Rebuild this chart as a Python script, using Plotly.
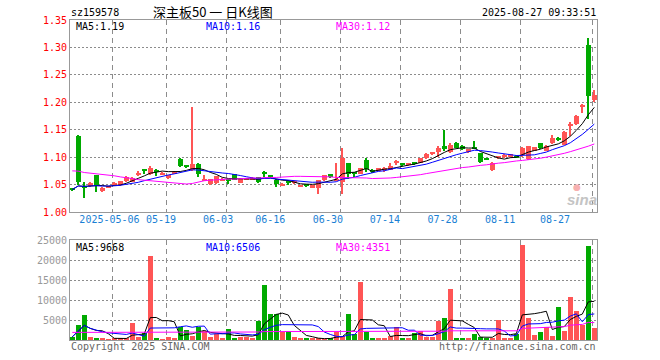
import plotly.graph_objects as go
import pandas as pd

# ---------------- data ----------------
dates = [
    "2025-04-22", "2025-04-23", "2025-04-24", "2025-04-25", "2025-04-28", "2025-04-29", "2025-04-30",
    "2025-05-06", "2025-05-07", "2025-05-08", "2025-05-09", "2025-05-12", "2025-05-13", "2025-05-14",
    "2025-05-15", "2025-05-16", "2025-05-19", "2025-05-20", "2025-05-21", "2025-05-22", "2025-05-23",
    "2025-05-26", "2025-05-27", "2025-05-28", "2025-05-29", "2025-05-30",
    "2025-06-03", "2025-06-04", "2025-06-05", "2025-06-06", "2025-06-09", "2025-06-10", "2025-06-11",
    "2025-06-12", "2025-06-13", "2025-06-16", "2025-06-17", "2025-06-18", "2025-06-19", "2025-06-20",
    "2025-06-23", "2025-06-24", "2025-06-25", "2025-06-26", "2025-06-27", "2025-06-30",
    "2025-07-01", "2025-07-02", "2025-07-03", "2025-07-04", "2025-07-07", "2025-07-08", "2025-07-09",
    "2025-07-10", "2025-07-11", "2025-07-14", "2025-07-15", "2025-07-16", "2025-07-17", "2025-07-18",
    "2025-07-21", "2025-07-22", "2025-07-23", "2025-07-24", "2025-07-25", "2025-07-28", "2025-07-29",
    "2025-07-30", "2025-07-31",
    "2025-08-01", "2025-08-04", "2025-08-05", "2025-08-06", "2025-08-07", "2025-08-08", "2025-08-11",
    "2025-08-12", "2025-08-13", "2025-08-14", "2025-08-15", "2025-08-18", "2025-08-19", "2025-08-20",
    "2025-08-21", "2025-08-22", "2025-08-25", "2025-08-26", "2025-08-27",
]

opens = [1.043, 1.138, 1.047, 1.048, 1.067, 1.038, 1.045, 1.049, 1.049, 1.056,
         1.055, 1.0685, 1.076, 1.069, 1.074, 1.069, 1.062, 1.071, 1.097, 1.084,
         1.0765, 1.088, 1.058, 1.051, 1.052, 1.057, 1.059, 1.0685, 1.053, 1.059,
         1.060, 1.063, 1.071, 1.067, 1.059, 1.049, 1.057, 1.053, 1.046, 1.049,
         1.044, 1.044, 1.058, 1.069, 1.058, 1.055, 1.089, 1.071, 1.070, 1.095,
         1.077, 1.075, 1.078, 1.0765, 1.090, 1.087, 1.086, 1.089, 1.090, 1.098,
         1.106, 1.110, 1.120, 1.109, 1.126, 1.121, 1.109, 1.116, 1.107, 1.097,
         1.0765, 1.099, 1.100, 1.101, 1.103, 1.104, 1.096, 1.112, 1.125, 1.112,
         1.125, 1.135, 1.123, 1.157, 1.160, 1.191, 1.305, 1.205]

closes = [1.041, 1.054, 1.045, 1.052, 1.048, 1.043, 1.046, 1.053, 1.056, 1.064,
          1.062, 1.072, 1.075, 1.081, 1.073, 1.072, 1.067, 1.073, 1.084, 1.083,
          1.088, 1.069, 1.061, 1.060, 1.065, 1.061, 1.058, 1.059, 1.061, 1.061,
          1.062, 1.055, 1.070, 1.063, 1.051, 1.051, 1.052, 1.054, 1.049, 1.048,
          1.049, 1.058, 1.067, 1.063, 1.061, 1.098, 1.070, 1.070, 1.080, 1.078,
          1.073, 1.080, 1.079, 1.084, 1.091, 1.086, 1.087, 1.088, 1.098, 1.106,
          1.107, 1.117, 1.115, 1.123, 1.117, 1.114, 1.114, 1.115, 1.092, 1.096,
          1.090, 1.100, 1.104, 1.105, 1.100, 1.117, 1.120, 1.118, 1.117, 1.121,
          1.134, 1.131, 1.146, 1.158, 1.175, 1.195, 1.212, 1.2136]

highs = [1.044, 1.140, 1.055, 1.054, 1.068, 1.045, 1.047, 1.054, 1.057, 1.065,
         1.063, 1.074, 1.078, 1.083, 1.078, 1.073, 1.068, 1.074, 1.099, 1.086,
         1.191, 1.089, 1.067, 1.061, 1.066, 1.062, 1.060, 1.069, 1.062, 1.062,
         1.063, 1.064, 1.075, 1.068, 1.060, 1.052, 1.058, 1.055, 1.050, 1.050,
         1.050, 1.059, 1.068, 1.070, 1.089, 1.117, 1.090, 1.073, 1.081, 1.098,
         1.078, 1.081, 1.082, 1.089, 1.095, 1.088, 1.088, 1.091, 1.099, 1.107,
         1.109, 1.120, 1.149, 1.126, 1.127, 1.122, 1.115, 1.129, 1.108, 1.098,
         1.091, 1.101, 1.105, 1.106, 1.104, 1.118, 1.121, 1.119, 1.126, 1.122,
         1.140, 1.136, 1.147, 1.164, 1.176, 1.196, 1.317, 1.223]

lows = [1.039, 1.050, 1.025, 1.046, 1.036, 1.036, 1.044, 1.048, 1.048, 1.055,
        1.054, 1.065, 1.070, 1.067, 1.065, 1.068, 1.061, 1.069, 1.082, 1.080,
        1.075, 1.063, 1.057, 1.049, 1.051, 1.056, 1.051, 1.058, 1.052, 1.058,
        1.059, 1.053, 1.064, 1.062, 1.046, 1.048, 1.050, 1.052, 1.045, 1.047,
        1.043, 1.033, 1.057, 1.062, 1.058, 1.033, 1.061, 1.064, 1.069, 1.073,
        1.072, 1.074, 1.073, 1.076, 1.086, 1.085, 1.085, 1.085, 1.089, 1.097,
        1.104, 1.101, 1.112, 1.107, 1.116, 1.113, 1.108, 1.114, 1.090, 1.095,
        1.075, 1.098, 1.099, 1.100, 1.099, 1.101, 1.095, 1.111, 1.115, 1.111,
        1.124, 1.130, 1.122, 1.139, 1.159, 1.181, 1.169, 1.200]

volumes = [800, 3830, 6330, 670, 330, 330, 250, 500, 500, 330,
           4330, 670, 1750, 20900, 500, 250, 830, 330, 3170, 2500,
           920, 3170, 2170, 750, 1500, 330, 2830, 330, 670, 670,
           330, 4670, 13830, 6580, 6580, 1920, 2330, 830, 330, 330,
           330, 500, 250, 500, 1920, 1000, 6580, 1500, 14580, 1920,
           500, 500, 330, 1080, 3330, 330, 330, 1670, 2170, 830,
           830, 4670, 5580, 12830, 500, 330, 330, 1580, 830, 330,
           330, 5080, 330, 580, 1580, 23830, 5580, 1330, 1900, 3300,
           1000, 8300, 2300, 10700, 7250, 3830, 23580, 2970]

# MA30 lines as drawn in the reference (they include history before the window)
ma30_price = [1.075, 1.0745, 1.072, 1.071, 1.069, 1.068, 1.067, 1.066, 1.064, 1.063,
              1.061, 1.059, 1.058, 1.057, 1.056, 1.055, 1.054, 1.052, 1.051, 1.051,
              1.052, 1.055, 1.057, 1.058, 1.059, 1.059, 1.060, 1.060, 1.061, 1.061,
              1.062, 1.062, 1.063, 1.063, 1.063, 1.064, 1.064, 1.065, 1.065, 1.065,
              1.064, 1.064, 1.064, 1.064, 1.063, 1.063, 1.062, 1.062, 1.062, 1.062,
              1.061, 1.061, 1.061, 1.062, 1.063, 1.064, 1.065, 1.066, 1.068, 1.070,
              1.072, 1.073, 1.075, 1.077, 1.079, 1.081, 1.082, 1.084, 1.085, 1.086,
              1.088, 1.089, 1.090, 1.092, 1.093, 1.094, 1.095, 1.097, 1.098, 1.100,
              1.102, 1.104, 1.107, 1.110, 1.113, 1.116, 1.120, 1.124]

ma30_vol = [1900, 1900, 1900, 1900, 1900, 1900, 1900, 1900, 1900, 1900,
            1900, 1900, 1900, 2000, 2000, 2000, 2000, 2000, 2000, 2000,
            2000, 2000, 2000, 2000, 2000, 2000, 2000, 2000, 2000, 2000,
            2000, 2000, 2100, 2100, 2100, 2100, 2100, 2100, 2100, 2100,
            2100, 2100, 2100, 2100, 2100, 2100, 2100, 2100, 2200, 2200,
            2200, 2200, 2200, 2200, 2200, 2200, 2200, 2200, 2200, 2200,
            2200, 2200, 2200, 2300, 2300, 2300, 2300, 2300, 2300, 2300,
            2300, 2300, 2300, 2300, 2300, 2900, 2950, 3000, 3050, 3100,
            3150, 3300, 3350, 3700, 3850, 3900, 4400, 4350]

tick_dates = ["2025-05-06", "2025-05-19", "2025-06-03", "2025-06-16", "2025-06-30",
              "2025-07-14", "2025-07-28", "2025-08-11", "2025-08-27"]
tick_text = ["2025-05-06", "05-19", "06-03", "06-16", "06-30", "07-14", "07-28", "08-11", "08-27"]

price_ticks = [1.00, 1.05, 1.10, 1.15, 1.20, 1.25, 1.30, 1.35]
vol_ticks = [5000, 10000, 15000, 20000, 25000]

code = "sz159578"
title = "深主板50 一 日K线图"
stamp = "2025-08-27 09:33:51"
vol_ma_labels = ["MA5:9668", "MA10:6506", "MA30:4351"]

# ---------------- derived ----------------
n = len(dates)
idx = list(range(n))
RED, GREEN = "#ff5555", "#00aa00"
colors = [RED if c >= o else GREEN for o, c in zip(opens, closes)]
body_base = [min(o, c) for o, c in zip(opens, closes)]
body_h = [max(abs(c - o), 0.0019) for o, c in zip(opens, closes)]
wick_h = [h - l for h, l in zip(highs, lows)]

cs = pd.Series(closes)
ma5 = cs.rolling(5, min_periods=1).mean()
ma10 = cs.rolling(10, min_periods=1).mean()
vs = pd.Series(volumes)
vma5 = vs.rolling(5, min_periods=1).mean()
vma10 = vs.rolling(10, min_periods=1).mean()

# ---------------- layout geometry ----------------
W, H = 660, 360
ML, MR, MT, MB = 70, 63, 20, 20
PW, PH = W - ML - MR, H - MT - MB


def px(x):
    return (x - ML) / PW


def py(y):
    return (H - MB - y) / PH


grid_pos = [dates.index(d) - 0.37 for d in tick_dates]
label_pos = [6.2, 14.8, 24.3, 33.0, 42.6, 52.1, 61.7, 71.3, 80.45]
xrange = [-0.38, n - 1 + 0.45]

MONO = "DejaVu Sans Mono"
GRID = "#8c8c8c"
FRAME = "#999999"

fig = go.Figure()
# candles
fig.add_trace(go.Bar(x=idx, y=wick_h, base=lows, width=0.17,
                     marker=dict(color=colors, line=dict(width=0)), xaxis="x", yaxis="y"))
fig.add_trace(go.Bar(x=idx, y=body_h, base=body_base, width=0.82,
                     marker=dict(color=colors, line=dict(width=0)), xaxis="x", yaxis="y"))
fig.add_trace(go.Scatter(x=idx, y=ma5, mode="lines", line=dict(color="black", width=1), xaxis="x", yaxis="y"))
fig.add_trace(go.Scatter(x=idx, y=ma10, mode="lines", line=dict(color="#0000ff", width=1), xaxis="x", yaxis="y"))
fig.add_trace(go.Scatter(x=idx, y=ma30_price, mode="lines", line=dict(color="#ff00ff", width=1), xaxis="x", yaxis="y"))
# volume
fig.add_trace(go.Bar(x=idx, y=volumes, width=0.82,
                     marker=dict(color=colors, line=dict(width=0)), xaxis="x2", yaxis="y2"))
fig.add_trace(go.Scatter(x=idx, y=vma5, mode="lines", line=dict(color="black", width=1), xaxis="x2", yaxis="y2"))
fig.add_trace(go.Scatter(x=idx, y=vma10, mode="lines", line=dict(color="#0000ff", width=1), xaxis="x2", yaxis="y2"))
fig.add_trace(go.Scatter(x=idx, y=ma30_vol, mode="lines", line=dict(color="#ff00ff", width=1), xaxis="x2", yaxis="y2"))
# empty trace so the date-label axis is drawn
fig.add_trace(go.Scatter(x=[None], y=[None], mode="lines", xaxis="x3", yaxis="y", hoverinfo="skip"))

fig.update_layout(template="none")

common_x = dict(range=xrange, tickmode="array", tickvals=grid_pos, showticklabels=False,
                ticks="", showgrid=True, gridcolor=GRID, gridwidth=1, griddash="5px,4px",
                showline=True, linecolor=FRAME, linewidth=1, mirror=True, zeroline=False)

fig.update_layout(
    width=W, height=H,
    margin=dict(l=ML, r=MR, t=MT, b=MB, pad=0),
    paper_bgcolor="white", plot_bgcolor="rgba(0,0,0,0)",
    showlegend=False, barmode="overlay", bargap=0,
    xaxis=dict(domain=[0, 1], anchor="y", **common_x),
    xaxis2=dict(domain=[0, 1], anchor="y2", **common_x),
    xaxis3=dict(overlaying="x", anchor="y", side="bottom", range=xrange,
                tickmode="array", tickvals=label_pos, ticktext=tick_text, ticks="",
                showgrid=False, showline=False, zeroline=False,
                tickfont=dict(family=MONO, size=10, color="#1a7fd4")),
    yaxis=dict(domain=[py(212), 1], range=[1.0, 1.35], tickmode="array", tickvals=price_ticks,
               ticktext=[f"{v:.2f}" for v in price_ticks], ticks="",
               tickfont=dict(family=MONO, size=10, color="#ff0000"),
               showgrid=True, gridcolor=GRID, gridwidth=1, griddash="2px,2px",
               showline=True, linecolor=FRAME, mirror=True, zeroline=False),
    yaxis2=dict(domain=[0, py(240)], range=[0, 25000], tickmode="array", tickvals=vol_ticks,
                ticktext=[str(v) for v in vol_ticks], ticks="",
                tickfont=dict(family=MONO, size=10, color="#999999"),
                showgrid=True, gridcolor=GRID, gridwidth=1, griddash="2px,2px",
                showline=True, linecolor=FRAME, mirror=True, zeroline=False),
)

ann = []


def text(s, x, y, anchor="left", color="black", size=10, family=MONO):
    ann.append(dict(text=s, x=px(x), y=py(y), xref="paper", yref="paper",
                    xanchor=anchor, yanchor="middle", showarrow=False,
                    font=dict(family=family, size=size, color=color)))


text(code, 69, 13)
text(title, 213, 11, anchor="center", size=13, family="Noto Sans CJK SC")
text(stamp, 598, 13, anchor="right")
text(f"MA5:{ma5.iloc[-1]:.2f}", 74, 26)
text(f"MA10:{ma10.iloc[-1]:.2f}", 204, 26, color="#0000ff")
text(f"MA30:{ma30_price[-1]:.2f}", 334, 26, color="#ff00ff")
text(vol_ma_labels[0], 74, 247)
text(vol_ma_labels[1], 204, 247, color="#0000ff")
text(vol_ma_labels[2], 334, 247, color="#ff00ff")
text("Copyright 2025 SINA.COM", 69, 346, color="#666666")
text("http://finance.sina.com.cn", 598, 346, anchor="right", color="#666666")
text("<b><i>sina</i></b>", 582, 199, anchor="center", color="#c4c4c4", size=15, family="Liberation Sans")
text("●", 577, 187, anchor="center", color="#f7b0b0", size=9, family="DejaVu Sans")
fig.update_layout(annotations=ann)

fig.write_html("out.html", config={"displayModeBar": False},
               post_script="document.body.style.margin='0';")
